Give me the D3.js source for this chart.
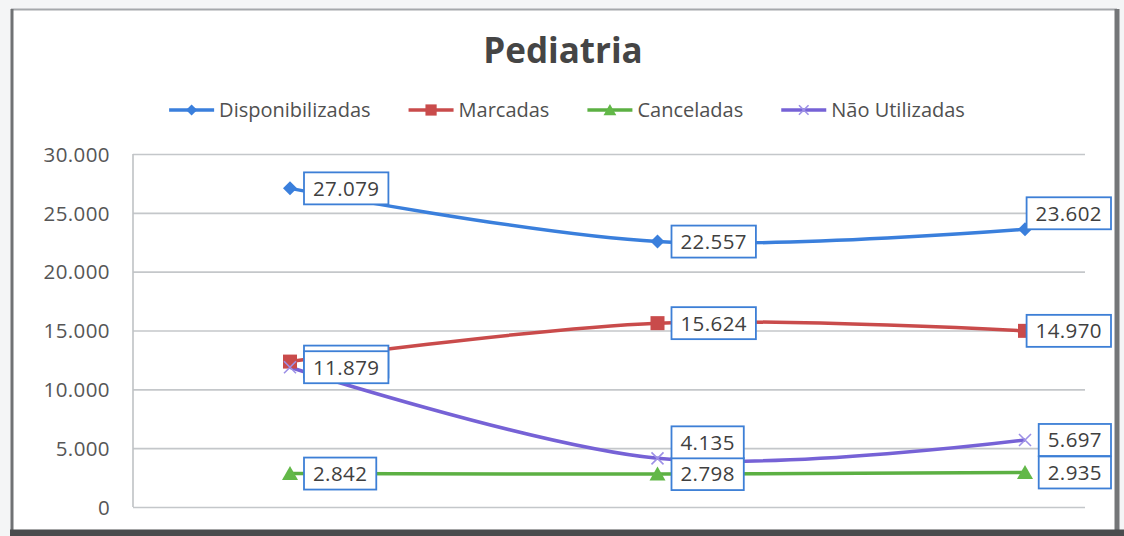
<!DOCTYPE html>
<html><head><meta charset="utf-8">
<script src="https://cdn.jsdelivr.net/npm/d3@7"></script>
<style>
html,body{margin:0;padding:0;background:#fff;}
svg{display:block;}
text{font-family:"Open Sans",sans-serif;}
</style></head>
<body>
<svg id="chart" width="1124" height="536"></svg>
<script>
const title = "Pediatria";
const categories = ["1", "2", "3"];
const seriesNames = ["Disponibilizadas", "Marcadas", "Canceladas", "Não Utilizadas"];
const disponibilizadas = [27079, 22557, 23602];
const marcadas = [12358, 15624, 14970];
const canceladas = [2842, 2798, 2935];
const naoUtilizadas = [11879, 4135, 5697];
const yTicks = [0, 5000, 10000, 15000, 20000, 25000, 30000];

const seriesValues = [disponibilizadas, marcadas, canceladas, naoUtilizadas];
const colors = ["#3a7fdc", "#c94b4b", "#5cb043", "#7662d6"];
const markerColors = ["#3a7fdc", "#c94b4b", "#62b848", "#9d90e6"];
const markerTypes = ["diamond", "square", "triangle", "x"];

const loc = d3.formatLocale({decimal: ",", thousands: ".", grouping: [3], currency: ["", ""]});
const fmt = loc.format(",d");

const svg = d3.select("#chart");

// frame
svg.append("rect").attr("x", 0).attr("y", 0).attr("width", 1124).attr("height", 536).attr("fill", "#f4f5f6");
svg.append("rect").attr("x", 12).attr("y", 9).attr("width", 1104).attr("height", 521).attr("fill", "#fff");
svg.append("line").attr("x1", 11).attr("x2", 1117).attr("y1", 9.5).attr("y2", 9.5).attr("stroke", "#a5a8ab").attr("stroke-width", 2);
svg.append("line").attr("x1", 12).attr("x2", 12).attr("y1", 9).attr("y2", 532).attr("stroke", "#707274").attr("stroke-width", 3);
svg.append("line").attr("x1", 1117).attr("x2", 1117).attr("y1", 9).attr("y2", 536).attr("stroke", "#747678").attr("stroke-width", 5);
svg.append("line").attr("x1", 10).attr("x2", 1124).attr("y1", 533).attr("y2", 533).attr("stroke", "#4a4c4e").attr("stroke-width", 7);

const plotLeft = 133, plotRight = 1085, plotTop = 154, plotBottom = 507;

const y = d3.scaleLinear().domain([0, 30000]).range([plotBottom, plotTop]);
const x = d3.scalePoint().domain(categories).range([290, 1025]);

// title
svg.append("text").attr("x", 563).attr("y", 63).attr("text-anchor", "middle")
  .attr("font-size", 35).attr("font-weight", 700).attr("fill", "#454545").text(title);

// gridlines + y axis
const yAxis = d3.axisLeft(y).tickValues(yTicks).tickFormat(d => d === 0 ? "0" : fmt(d))
  .tickSize(-(plotRight - plotLeft)).tickPadding(23);
const gAxis = svg.append("g").attr("transform", `translate(${plotLeft},0)`).call(yAxis);
gAxis.select(".domain").remove();
gAxis.selectAll(".tick line").attr("stroke", "#c4c7ca").attr("stroke-width", 1.6);
gAxis.selectAll(".tick text").attr("font-size", 20.5).attr("fill", "#565656")
  .attr("font-family", "'Open Sans',sans-serif").attr("letter-spacing", 0.4).attr("dy", "0.35em");
svg.append("line").attr("x1", plotLeft).attr("x2", plotLeft).attr("y1", plotTop).attr("y2", plotBottom)
  .attr("stroke", "#bfc2c5").attr("stroke-width", 1.6);

// lines
const line = d3.line().x((d, i) => x(categories[i])).y(d => y(d)).curve(d3.curveCardinal.tension(0));

function drawMarker(g, type, cx, cy, color, scale) {
  const s = scale || 1;
  if (type === "diamond") {
    g.append("path").attr("d", `M${cx},${cy-7*s}L${cx+7*s},${cy}L${cx},${cy+7*s}L${cx-7*s},${cy}Z`).attr("fill", color);
  } else if (type === "square") {
    g.append("rect").attr("x", cx-7*s).attr("y", cy-7*s).attr("width", 14*s).attr("height", 14*s).attr("fill", color);
  } else if (type === "triangle") {
    g.append("path").attr("d", `M${cx},${cy-7.5*s}L${cx+8*s},${cy+6.5*s}L${cx-8*s},${cy+6.5*s}Z`).attr("fill", color);
  } else {
    g.append("path").attr("d", `M${cx-6*s},${cy-6*s}L${cx+6*s},${cy+6*s}M${cx+6*s},${cy-6*s}L${cx-6*s},${cy+6*s}`)
      .attr("stroke", color).attr("stroke-width", 1.6).attr("fill", "none");
  }
}

const gLines = svg.append("g");
seriesValues.forEach((vals, si) => {
  gLines.append("path").datum(vals).attr("d", line).attr("fill", "none")
    .attr("stroke", colors[si]).attr("stroke-width", 3.5);
});
const gMarkers = svg.append("g");
seriesValues.forEach((vals, si) => {
  vals.forEach((v, i) => drawMarker(gMarkers, markerTypes[si], x(categories[i]), y(v), markerColors[si]));
});

// labels
const above = {"0-2": true, "3-1": true};
const covered = {"1-0": true}; // label box fully hidden behind another label in the reference
const gLabels = svg.append("g");
const boxRightLimit = 1111;
seriesValues.forEach((vals, si) => {
  vals.forEach((v, i) => {
    const px = x(categories[i]), py = y(v);
    const key = si + "-" + i;
    const g = gLabels.append("g");
    const rect = g.append("rect");
    const t = g.append("text").attr("font-size", 20.5).attr("letter-spacing", 0.4).attr("fill", "#404040").text(fmt(v));
    const tw = t.node().getComputedTextLength();
    const bw = tw + 18, bh = 32;
    let bx = Math.min(px + 14, boxRightLimit - bw);
    let by = above[key] ? py - bh : py - bh / 2;
    rect.attr("x", bx).attr("y", by).attr("width", bw).attr("height", bh)
      .attr("fill", "#fff").attr("stroke", "#3d7fd6").attr("stroke-width", 1.8);
    t.attr("x", bx + 9).attr("y", by + bh / 2).attr("dy", "0.36em");
    if (covered[key]) t.remove();
  });
});

// legend
const legend = svg.append("g");
const lineLen = 45, gapText = 5, gapItem = 38, legendY = 110;
let cursor = 0;
seriesNames.forEach((name, si) => {
  const g = legend.append("g");
  g.append("line").attr("x1", cursor).attr("x2", cursor + lineLen).attr("y1", legendY).attr("y2", legendY)
    .attr("stroke", colors[si]).attr("stroke-width", 3.5);
  drawMarker(g, markerTypes[si], cursor + lineLen / 2, legendY, markerColors[si], 0.8);
  const t = g.append("text").attr("x", cursor + lineLen + gapText).attr("y", legendY).attr("dy", "0.35em")
    .attr("font-size", 20).attr("fill", "#505050").text(name);
  cursor += lineLen + gapText + t.node().getComputedTextLength() + gapItem;
});
const totalW = cursor - gapItem;
legend.attr("transform", `translate(${567 - totalW / 2},0)`);
</script>
</body></html>
